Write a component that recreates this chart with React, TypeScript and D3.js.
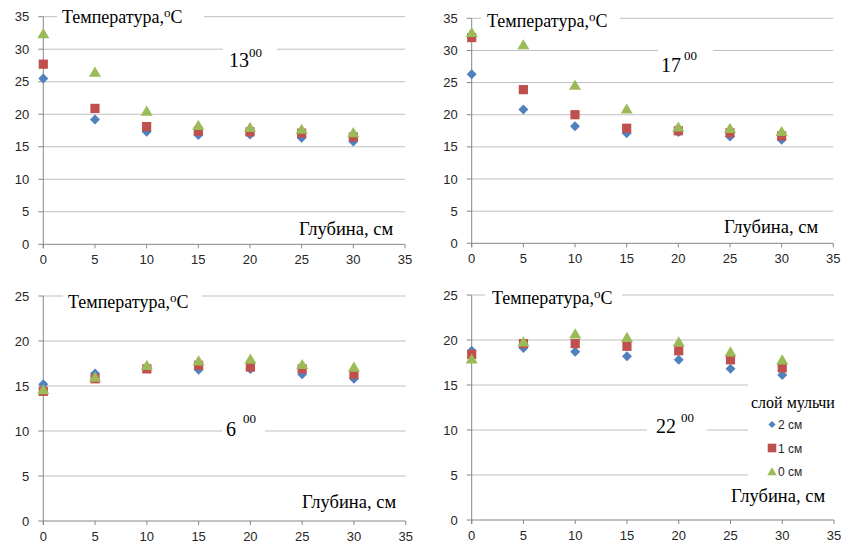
import React from "react";
import * as d3 from "d3";

const depths = [0, 5, 10, 15, 20, 25, 30];
const xTicks = [0, 5, 10, 15, 20, 25, 30, 35];
const seriesNames = ["2 см", "1 см", "0 см"];
const legendTitle = "слой мульчи";
const yLabel = "Температура,";
const xLabel = "Глубина, см";

const t13_2cm = [25.5, 19.2, 17.3, 16.8, 16.9, 16.4, 15.8];
const t13_1cm = [27.7, 20.9, 18.1, 17.4, 17.3, 17.1, 16.5];
const t13_0cm = [32.4, 26.5, 20.5, 18.3, 18.0, 17.7, 17.2];

const t17_2cm = [26.3, 20.8, 18.2, 17.1, 17.3, 16.6, 16.1];
const t17_1cm = [32.0, 23.9, 20.0, 17.9, 17.5, 17.2, 16.7];
const t17_0cm = [32.8, 30.9, 24.6, 20.9, 18.1, 17.9, 17.4];

const t06_2cm = [15.2, 16.4, 17.0, 16.8, 16.9, 16.3, 15.8];
const t06_1cm = [14.4, 15.8, 16.9, 17.3, 17.1, 16.9, 16.3];
const t06_0cm = [14.6, 16.0, 17.3, 17.8, 18.0, 17.4, 17.1];

const t22_2cm = [18.8, 19.1, 18.7, 18.2, 17.8, 16.8, 16.1];
const t22_1cm = [18.4, 19.6, 19.6, 19.3, 18.8, 17.8, 16.9];
const t22_0cm = [17.9, 19.8, 20.7, 20.3, 19.8, 18.7, 17.8];

const hours = ["13", "17", "6", "22"];
const yMaxes = [35, 35, 25, 25];

const COLORS = ["#4F81BD", "#C0504D", "#9BBB59"];
const GRID = "#BFBFBF";
const AXIS = "#868686";
const SERIF = "'Liberation Serif', 'Times New Roman', serif";
const SANS = "'Liberation Sans', Arial, sans-serif";

type Layout = {
  x0: number; x1: number; yTop: number; yBot: number;
  title: [number, number]; titleBox: [number, number, number, number];
  time: [number, number]; sup: [number, number]; timeBox: [number, number, number, number];
  depth: [number, number];
  legend?: boolean;
};

const layouts: Layout[] = [
  { x0: 43.3, x1: 405, yTop: 16.7, yBot: 244.3, title: [62, 23], titleBox: [57, 8, 147, 22],
    time: [229, 67], sup: [249, 57], timeBox: [223, 38, 54, 34], depth: [299, 235] },
  { x0: 471.7, x1: 833.3, yTop: 18.3, yBot: 243.3, title: [487, 27], titleBox: [481, 10, 139, 23],
    time: [661, 72], sup: [684, 60], timeBox: [658, 42, 55, 34], depth: [724, 233] },
  { x0: 43.3, x1: 405.7, yTop: 296, yBot: 521, title: [68, 308], titleBox: [63, 289, 139, 24],
    time: [226, 436], sup: [243, 423], timeBox: [222, 410, 43, 30], depth: [302, 508] },
  { x0: 471.7, x1: 834, yTop: 295, yBot: 520, title: [492, 304], titleBox: [485, 288, 137, 22],
    time: [656, 433], sup: [681, 421.5], timeBox: [647, 408, 60, 32], depth: [731, 502], legend: true },
];

const panelData = [
  [t13_2cm, t13_1cm, t13_0cm],
  [t17_2cm, t17_1cm, t17_0cm],
  [t06_2cm, t06_1cm, t06_0cm],
  [t22_2cm, t22_1cm, t22_0cm],
];

function markerPath(kind: number, s: number): string {
  if (kind === 0) return `M0,${-s}L${s},0L0,${s}L${-s},0Z`;
  if (kind === 1) return `M${-s},${-s}H${s}V${s}H${-s}Z`;
  return `M0,${-s}L${s * 1.1},${s * 0.85}L${-s * 1.1},${s * 0.85}Z`;
}
const markerSize = [5, 4.6, 5.5];

function Panel({ idx }: { idx: number }) {
  const L = layouts[idx];
  const yMax = yMaxes[idx];
  const x = d3.scaleLinear().domain([0, 35]).range([L.x0, L.x1]);
  const y = d3.scaleLinear().domain([0, yMax]).range([L.yBot, L.yTop]);
  const yTicks = d3.range(0, yMax + 0.1, 5);
  const data = panelData[idx];
  return (
    <g>
      {yTicks.filter((t) => t > 0).map((t) => (
        <line key={"g" + t} x1={L.x0} x2={L.x1} y1={y(t)} y2={y(t)} stroke={GRID} strokeWidth={1} />
      ))}
      <line x1={L.x0} x2={L.x0} y1={L.yTop} y2={L.yBot + 4} stroke={AXIS} />
      <line x1={L.x0} x2={L.x1} y1={L.yBot} y2={L.yBot} stroke={AXIS} />
      {yTicks.map((t) => (
        <g key={"yt" + t}>
          <line x1={L.x0 - 5} x2={L.x0} y1={y(t)} y2={y(t)} stroke={AXIS} />
          <text x={L.x0 - 14} y={y(t) + 4.5} textAnchor="end" fontFamily={SANS} fontSize={13} fill="#262626">{t}</text>
        </g>
      ))}
      {xTicks.map((t) => (
        <g key={"xt" + t}>
          <line x1={x(t)} x2={x(t)} y1={L.yBot} y2={L.yBot + 4} stroke={AXIS} />
          <text x={x(t)} y={L.yBot + 20} textAnchor="middle" fontFamily={SANS} fontSize={13} fill="#262626">{t}</text>
        </g>
      ))}
      <rect x={L.titleBox[0]} y={L.titleBox[1]} width={L.titleBox[2]} height={L.titleBox[3]} fill="#fff" />
      <text x={L.title[0]} y={L.title[1]} fontFamily={SERIF} fontSize={18} fill="#000">
        {yLabel}
        <tspan dy={-6.5} fontSize={13}>o</tspan>
        <tspan dy={6.5}>C</tspan>
      </text>
      <rect x={L.timeBox[0]} y={L.timeBox[1]} width={L.timeBox[2]} height={L.timeBox[3]} fill="#fff" />
      <text x={L.time[0]} y={L.time[1]} fontFamily={SERIF} fontSize={20} fill="#000">{hours[idx]}</text>
      <text x={L.sup[0]} y={L.sup[1]} fontFamily={SERIF} fontSize={13} fill="#000">00</text>
      <text x={L.depth[0]} y={L.depth[1]} fontFamily={SERIF} fontSize={18.5} fill="#000">{xLabel}</text>
      {data.map((vals, si) => (
        <g key={"s" + si} fill={COLORS[si]}>
          {vals.map((v, i) => (
            <path key={i} d={markerPath(si, markerSize[si])} transform={`translate(${x(depths[i])},${y(v)})`} />
          ))}
        </g>
      ))}
      {L.legend && (
        <g>
          <rect x={748} y={381} width={88} height={105} fill="#fff" />
          <text x={751} y={408} fontFamily={SERIF} fontSize={16} fill="#000">{legendTitle}</text>
          {seriesNames.map((n, si) => (
            <g key={n} transform={`translate(0,${si * 23.5})`}>
              <path d={markerPath(si, si === 0 ? 3.6 : 4.3)} fill={COLORS[si]} transform={`translate(772,${424.5})`} />
              <text x={778} y={429} fontFamily={SANS} fontSize={12} fill="#262626">{n}</text>
            </g>
          ))}
        </g>
      )}
    </g>
  );
}

export default function App() {
  return (
    <svg width={847} height={549} style={{ position: "absolute", left: 0, top: 0, background: "#fff" }}>
      <rect width={847} height={549} fill="#fff" />
      {layouts.map((_, i) => <Panel key={i} idx={i} />)}
    </svg>
  );
}
